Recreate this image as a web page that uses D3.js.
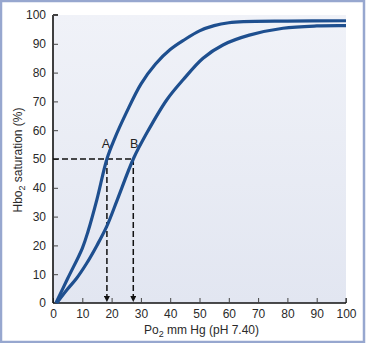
<!DOCTYPE html>
<html><head><meta charset="utf-8">
<script src="https://cdn.jsdelivr.net/npm/d3@7"></script>
<style>html,body{margin:0;padding:0;background:#fff;}svg{display:block;font-family:"Liberation Sans",Arial,sans-serif;}</style>
</head><body>
<svg id="c" width="366" height="347"></svg>
<script>
const xTicks = [0,10,20,30,40,50,60,70,80,90,100];
const yTicks = [0,10,20,30,40,50,60,70,80,90,100];
const curveA_po2 = [1,5,10,12,15,18.4,21,25,30,35,40,45,50,55,60,65,80,100];
const curveA_sat = [0,8.5,19,25,36,50,57,66,76,83,88,91.5,94.5,96.3,97.3,97.7,97.9,98];
const curveB_po2 = [1.3,4.7,8,11.5,15,18.3,22,27.4,32,38.8,44.4,51.2,58,67,78.5,90,100];
const curveB_sat = [0,4.5,8.5,13.8,20,26.5,36,50,59,70.5,77.5,85,89.6,93,95.4,96.2,96.3];
const markerLabels = ["A","B"];
const markerPo2 = [18.4,27.4];
const markerSat = 50;
const xTitle = ["Po","2"," mm Hg (pH 7.40)"];
const yTitle = ["Hbo","2"," saturation (%)"];

const svg = d3.select("#c");
const L=53, R=346, T=15, B=303;
const x = d3.scaleLinear().domain([0,100]).range([L,R]);
const y = d3.scaleLinear().domain([0,100]).range([B,T]);

// outer frame
svg.append("rect").attr("x",1).attr("y",1).attr("width",363).attr("height",341)
  .attr("fill","#fff").attr("stroke","#97a7cf").attr("stroke-width",2.5);
svg.append("rect").attr("x",0).attr("y",343).attr("width",366).attr("height",4).attr("fill","#fff");

// plot background gradient
const defs = svg.append("defs");
const g = defs.append("linearGradient").attr("id","bg").attr("x1",0).attr("y1",0).attr("x2",0).attr("y2",1);
g.append("stop").attr("offset","0%").attr("stop-color","#f0f2f8");
g.append("stop").attr("offset","100%").attr("stop-color","#e2e6f1");
svg.append("rect").attr("x",L).attr("y",T).attr("width",R-L).attr("height",B-T).attr("fill","url(#bg)");

defs.append("marker").attr("id","arr").attr("viewBox","0 0 10 10").attr("refX",10).attr("refY",5)
  .attr("markerWidth",6).attr("markerHeight",6).attr("markerUnits","userSpaceOnUse").attr("orient","auto")
  .append("path").attr("d","M0,0L10,5L0,10Z").attr("fill","#111");

// axes
const xa = svg.append("g").attr("transform",`translate(0,${B})`)
  .call(d3.axisBottom(x).tickValues(xTicks).tickSize(-5).tickPadding(6));
const ya = svg.append("g").attr("transform",`translate(${L},0)`)
  .call(d3.axisLeft(y).tickValues(yTicks).tickSize(-5).tickPadding(7));
[xa,ya].forEach(a=>{
  a.select(".domain").attr("stroke","#111").attr("stroke-width",1.6);
  a.selectAll(".tick line").attr("stroke","#444").attr("stroke-width",1);
  a.selectAll(".tick text").attr("font-size",12).attr("fill","#2a2a2a");
});
ya.select(".domain").attr("d",`M0,${B}V${T}`);
ya.select(".domain").clone().attr("d",`M0,${T}H5`);
xa.select(".domain").attr("d",`M${L},0H${R}`);
xa.select(".domain").clone().attr("d",`M${R},0V-5`).attr("stroke-width",1);

// dashed guides
svg.append("line").attr("x1",x(0)).attr("x2",x(markerPo2[1])).attr("y1",y(markerSat)).attr("y2",y(markerSat))
  .attr("stroke","#111").attr("stroke-width",1.5).attr("stroke-dasharray","6,3");
markerPo2.forEach(v=>{
  svg.append("line").attr("x1",x(v)).attr("x2",x(v)).attr("y1",y(markerSat)).attr("y2",y(0)-1)
    .attr("stroke","#111").attr("stroke-width",1.5).attr("stroke-dasharray","6,3").attr("marker-end","url(#arr)");
});

// curves
const line = d3.line().x(d=>x(d[0])).y(d=>y(d[1])).curve(d3.curveCatmullRom.alpha(0.5));
const dA = curveA_po2.map((v,i)=>[v,curveA_sat[i]]);
const dB = curveB_po2.map((v,i)=>[v,curveB_sat[i]]);
[dA,dB].forEach(d=>{
  svg.append("path").datum(d).attr("d",line).attr("fill","none").attr("stroke","#1e4f8f")
    .attr("stroke-width",3.2).attr("stroke-linejoin","round");
});

// marker labels
markerLabels.forEach((t,i)=>{
  svg.append("text").attr("x",x(markerPo2[i])-1+ (i?2:0)).attr("y",y(markerSat)-11)
    .attr("text-anchor","middle").attr("font-size",12.5).attr("fill","#222").text(t);
});

// x title
const xt = svg.append("text").attr("x",(L+R)/2+2).attr("y",334).attr("text-anchor","middle")
  .attr("font-size",12).attr("fill","#2a2a2a");
xt.append("tspan").text(xTitle[0]);
xt.append("tspan").attr("font-size",9).attr("dy",3).text(xTitle[1]);
xt.append("tspan").attr("dy",-3).text(xTitle[2]);

// y title
const yt = svg.append("text").attr("transform",`translate(22,160) rotate(-90)`).attr("text-anchor","middle")
  .attr("font-size",12).attr("fill","#2a2a2a");
yt.append("tspan").text(yTitle[0]);
yt.append("tspan").attr("font-size",9).attr("dy",3).text(yTitle[1]);
yt.append("tspan").attr("dy",-3).text(yTitle[2]);
</script>
</body></html>
